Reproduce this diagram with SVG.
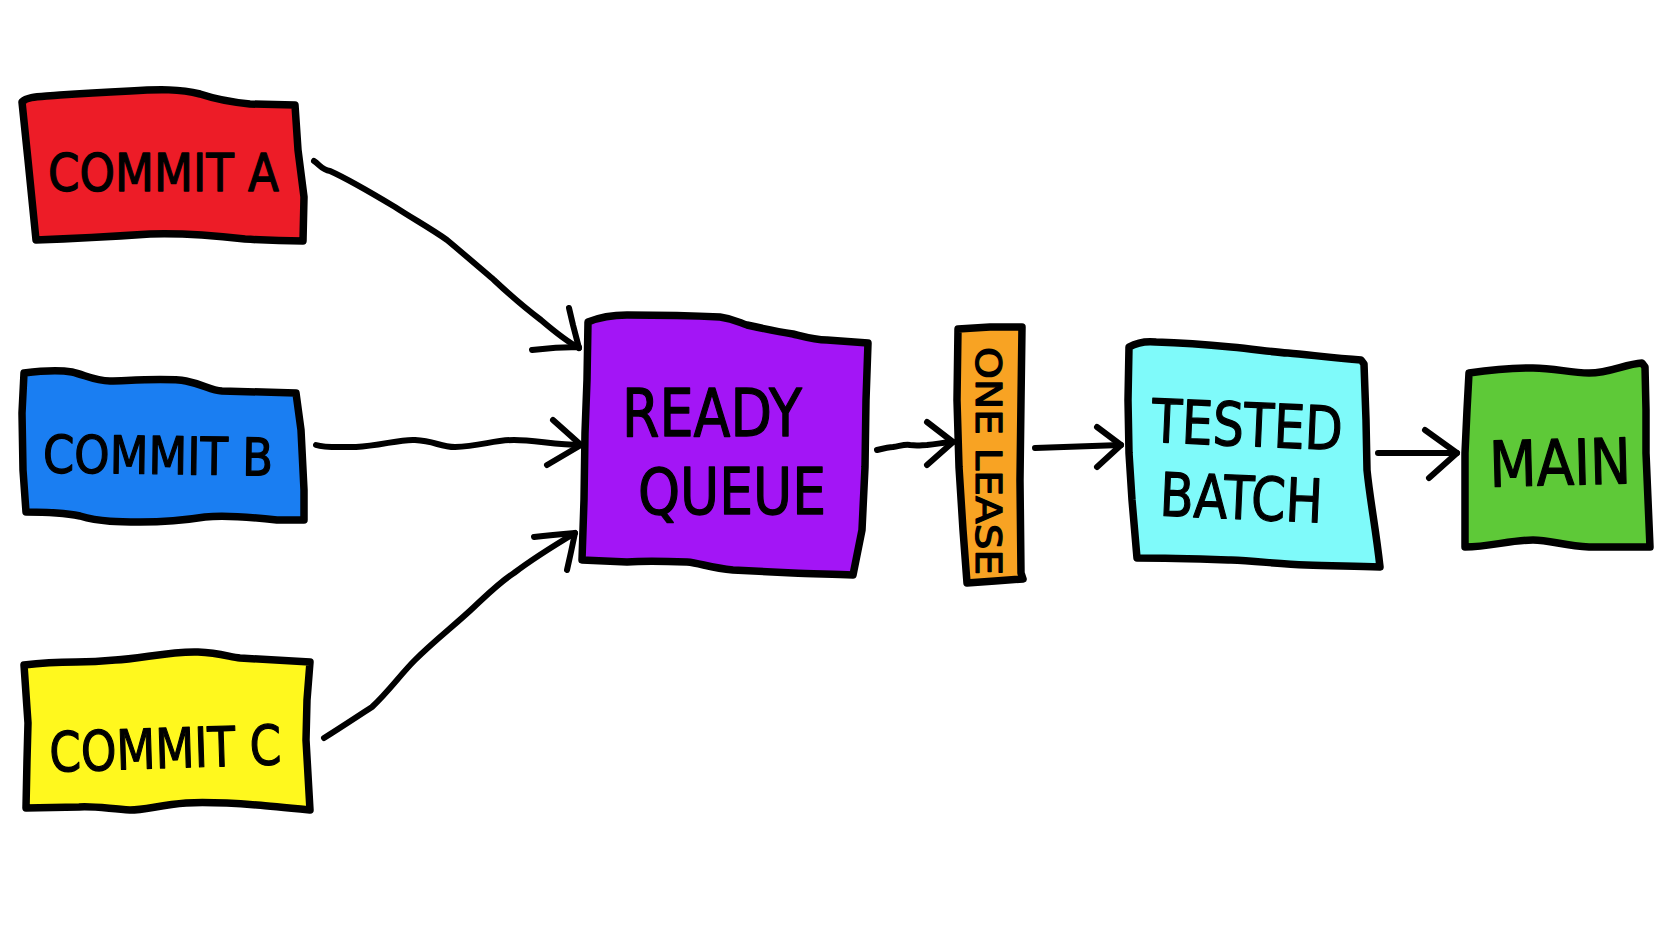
<svg xmlns="http://www.w3.org/2000/svg" width="1672" height="941" viewBox="0 0 1672 941">
<defs>
<style>
.box{stroke:#000;stroke-width:7.5;stroke-linejoin:round;stroke-linecap:round}
.lbl{font-family:"DejaVu Sans","Liberation Sans",sans-serif;fill:#000;stroke:#000;stroke-width:1.3;stroke-linejoin:round;font-weight:normal}
.con{fill:none;stroke:#000;stroke-width:6;stroke-linecap:round;stroke-linejoin:round}
</style>
</defs>
<rect width="1672" height="941" fill="#fff"/>
<g id="commit-a">
<path class="box" fill="#ED1C27" d="M22,102 C28,96 40,97 60,95 C90,93 110,92 130,91 C160,89 180,89 200,94 C215,99 230,102 250,104 L295,105 L298,150 L304,197 L303,241 C280,241 260,240 245,239 C210,235 180,233 150,234 C120,236 90,238 36,240 L32,200 L28,160 Z"/>
<text class="lbl" x="48" y="191" font-size="51" textLength="231" lengthAdjust="spacingAndGlyphs">COMMIT A</text>
</g>
<g id="commit-b">
<path class="box" fill="#1A7EF2" d="M24,373 C40,371 60,370 72,372 C85,375 95,381 110,381 C140,380 170,378 186,381 C205,385 210,390 222,391 L296,393 L301,430 L304,490 L304,520 L277,520 C250,517 225,515 205,517 C180,521 160,522 140,522 C120,522 100,522 80,516 C60,512 40,512 26,512 L23,470 L22,413 Z"/>
<text class="lbl" x="43" y="474" font-size="52" textLength="230" lengthAdjust="spacingAndGlyphs" transform="rotate(0.8 158 455)">COMMIT B</text>
</g>
<g id="commit-c">
<path class="box" fill="#FFF81E" d="M24,665 C40,663 60,662 76,662 C95,662 105,661 115,660 C140,659 170,651 198,652 C220,653 230,657 240,658 L310,662 L307,700 L306,740 L310,810 C290,808 270,806 257,805 C230,803 205,802 186,803 C160,805 145,810 130,810 C110,809 95,806 79,807 L26,808 L27,760 L28,723 Z"/>
<text class="lbl" x="49" y="768" font-size="55" textLength="232" lengthAdjust="spacingAndGlyphs" transform="rotate(-1.8 165 740)">COMMIT C</text>
</g>
<g id="ready-queue">
<path class="box" fill="#A315F6" d="M588,322 C600,317 612,315 627,315 C660,315 700,316 720,317 C735,319 740,323 747,325 C765,329 780,332 793,334 C805,337 815,340 827,340 L868,343 L866,400 L865,467 L862,530 L853,575 C830,574 810,574 793,573 C770,572 750,571 733,570 C710,568 700,563 687,562 C660,561 640,561 627,562 L582,560 L584,500 L585,433 L587,380 Z"/>
<text class="lbl" x="622" y="436" font-size="66" textLength="180" lengthAdjust="spacingAndGlyphs">READY</text>
<text class="lbl" x="638" y="514" font-size="64" textLength="188" lengthAdjust="spacingAndGlyphs">QUEUE</text>
</g>
<g id="one-lease">
<path class="box" fill="#F8A323" d="M958,329 L990,327 L1022,327 L1021,400 L1020,480 L1021,573 L1023,579 L995,581 L967,583 L963,530 L959,467 L957,400 Z"/>
<text class="lbl" x="0" y="0" font-size="36" textLength="228" lengthAdjust="spacingAndGlyphs" transform="translate(976 347) rotate(90)">ONE LEASE</text>
</g>
<g id="tested-batch">
<path class="box" fill="#7FFAFA" d="M1129,347 C1138,342 1147,341 1156,342 C1185,343 1210,345 1231,347 C1255,349 1270,352 1288,353 C1310,355 1335,358 1361,360 L1364,364 L1366,420 L1367,470 C1370,500 1376,530 1380,567 C1350,566 1330,566 1306,565 C1280,564 1255,561 1231,560 C1200,559 1170,558 1137,558 L1132,500 L1129,453 L1128,400 Z"/>
<text class="lbl" x="1152" y="446" font-size="60" textLength="191" lengthAdjust="spacingAndGlyphs" transform="rotate(2.5 1247 420)">TESTED</text>
<text class="lbl" x="1160" y="519" font-size="60" textLength="163" lengthAdjust="spacingAndGlyphs" transform="rotate(2.5 1242 495)">BATCH</text>
</g>
<g id="main">
<path class="box" fill="#5EC938" d="M1469,373 C1490,370 1510,368 1533,368 C1555,368 1570,373 1589,373 C1610,373 1625,364 1642,363 L1645,367 L1646,410 L1646,453 L1648,500 L1650,547 C1630,547 1610,547 1589,547 C1565,546 1550,540 1533,540 C1510,540 1490,547 1465,547 L1465,500 L1465,453 L1467,410 Z"/>
<text class="lbl" x="1489" y="485" font-size="63" textLength="142" lengthAdjust="spacingAndGlyphs" transform="rotate(-1.5 1560 462)">MAIN</text>
</g>
<g id="connectors">
<path class="con" d="M314,161 C320,165 322,170 330,171 C350,180 370,192 395,207 C415,220 430,228 447,240 C465,255 480,268 494,280 C510,295 525,308 541,320 C555,332 568,342 579,348"/>
<path class="con" d="M569,308 L573,325 L579,348 M532,350 C548,348 562,347 579,347"/>
<path class="con" d="M316,445 C325,448 335,447 356,447 C380,446 400,439 415,440 C435,441 440,447 455,447 C480,446 495,440 514,440 C535,440 555,445 581,445"/>
<path class="con" d="M553,420 L581,445 L547,465"/>
<path class="con" d="M324,738 C340,728 355,718 372,707 C390,690 400,675 415,660 C435,640 455,625 474,607 C490,592 500,582 514,573 C535,557 555,545 575,533"/>
<path class="con" d="M534,537 C550,535 562,534 575,533 L571,552 L567,570"/>
<path class="con" d="M877,450 C885,448 890,447 893,447 C900,446 905,444 910,445 C918,446 922,445 927,445 C938,444 946,442 953,442"/>
<path class="con" d="M927,422 L953,442 L927,465"/>
<path class="con" d="M1035,448 C1060,447 1090,446 1121,445"/>
<path class="con" d="M1097,427 L1121,445 L1097,467"/>
<path class="con" d="M1378,453 C1400,453 1430,453 1457,453"/>
<path class="con" d="M1425,430 L1457,453 L1429,478"/>
</g>
</svg>
